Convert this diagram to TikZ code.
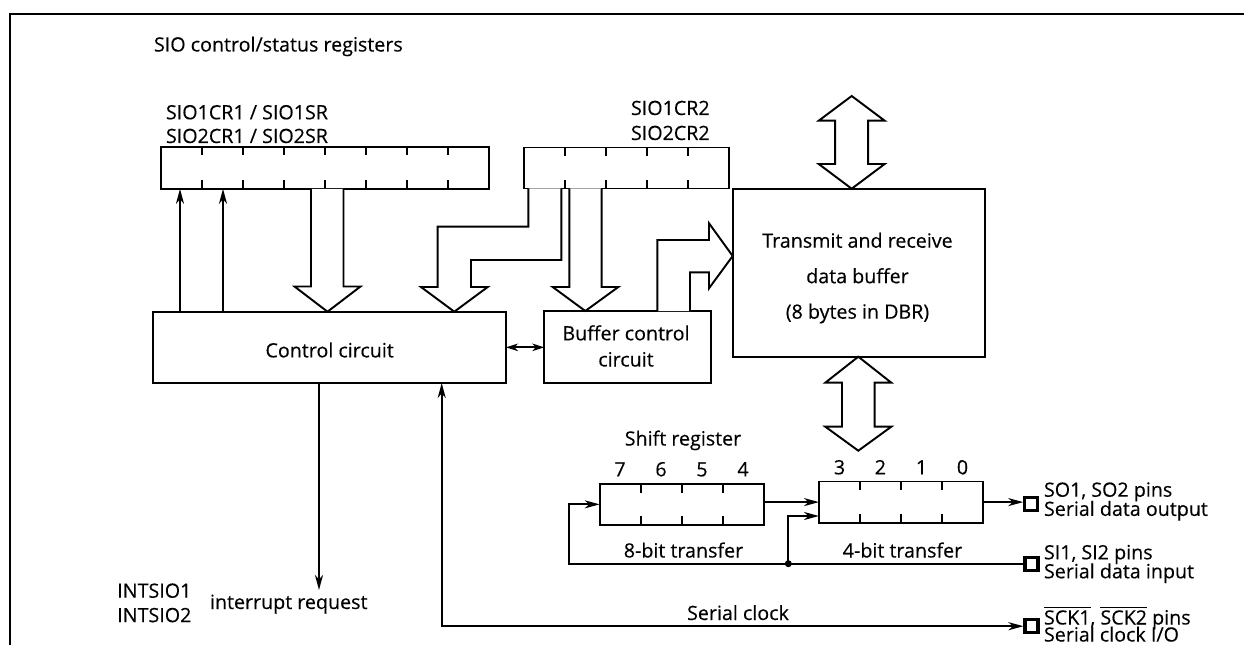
\documentclass[tikz,border=0pt]{standalone}
\usepackage{fontspec}
\setmainfont{Open Sans}[FakeBold=0.3]
\usetikzlibrary{arrows.meta,calc}
\newcommand\pinlbl[3]{\vtop{\baselineskip=#1\lineskiplimit=-100pt\lineskip=0pt\hbox{#2}\hbox{#3}}}
\begin{document}
\begin{tikzpicture}[x=0.02cm,y=-0.02cm,
  line width=1.1pt,
  box/.style={draw,line width=1.1pt,inner sep=0pt,outer sep=0pt},
  txt/.style={inner sep=0pt,outer sep=0pt,font=\fontsize{11.2}{13}\selectfont},
  arr/.style={-{Stealth[length=3mm,width=1.6mm,inset=0.9mm]}},
  arrboth/.style={{Stealth[length=3mm,width=1.6mm,inset=0.9mm]}-{Stealth[length=3mm,width=1.6mm,inset=0.9mm]}},
  darr/.style={{Stealth[length=2.4mm,width=1.5mm,inset=0.7mm]}-{Stealth[length=2.4mm,width=1.5mm,inset=0.7mm]}},
  blk/.style={draw,fill=white,line width=1.1pt,line join=miter},
  pin/.style={draw,line width=1.8pt,minimum size=2.6mm,inner sep=0pt}]
\useasboundingbox (0,0) rectangle (1244,645);
% frame
\draw[line width=1.5pt] (10,645) -- (10,14) -- (1244,14);

% titles
\node[txt,anchor=base west] (title) at (154,51.5) {SIO control/status registers};
\node[txt,anchor=base west] (l1a) at (166,119.3) {SIO1CR1 / SIO1SR};
\node[txt,anchor=base west] (l1b) at (166,143) {SIO2CR1 / SIO2SR};
\node[txt,anchor=base west] (l2a) at (631,115) {SIO1CR2};
\node[txt,anchor=base west] (l2b) at (631,140) {SIO2CR2};

% registers
\node[box,minimum width=65.6mm,minimum height=8.4mm] (cr1) at (325,167.8) {};
\foreach \i in {1,...,7} {
  \draw ($(cr1.north west)+(\i*41,0)$) -- ++(0,8.5);
  \draw ($(cr1.south west)+(\i*41,0)$) -- ++(0,-8.5);
}
\node[box,minimum width=41mm,minimum height=8.2mm] (cr2) at (626.65,168) {};
\foreach \i in {1,...,4} {
  \draw ($(cr2.north west)+(\i*41,0)$) -- ++(0,8.5);
  \draw ($(cr2.south west)+(\i*41,0)$) -- ++(0,-8.5);
}

% main boxes
\node[box,minimum width=70.54mm,minimum height=14.26mm,font=\fontsize{11.2}{13}\selectfont,text height=4mm,text depth=0mm] (ctrl) at (329.65,347.35) {Control circuit};
\node[box,minimum width=33.28mm,minimum height=14.4mm] (bc) at (627.5,347) {};
\node[txt,anchor=base] (bct1) at (626,340.3) {Buffer control};
\node[txt,anchor=base] (bct2) at (626,366.5) {circuit};
\node[box,minimum width=50.46mm,minimum height=33.6mm] (dbr) at (858.85,272.7) {};
\node[txt,anchor=base] (dbt1) at (857.5,247.7) {Transmit and receive};
\node[txt,anchor=base] (dbt2) at (857.5,283.2) {data buffer};
\node[txt,anchor=base] (dbt3) at (857.5,318.7) {(8 bytes in DBR)};

% shift registers
\node[box,minimum width=32.86mm,minimum height=8.14mm] (shl) at (681.85,504.35) {};
\foreach \i in {1,...,3} {
  \draw ($(shl.north west)+(\i*41.08,0)$) -- ++(0,8.5);
  \draw ($(shl.south west)+(\i*41.08,0)$) -- ++(0,-8.5);
}
\node[box,minimum width=32.74mm,minimum height=8.24mm] (shr) at (900.85,502.1) {};
\foreach \i in {1,...,3} {
  \draw ($(shr.north west)+(\i*40.92,0)$) -- ++(0,8.5);
  \draw ($(shr.south west)+(\i*40.92,0)$) -- ++(0,-8.5);
}
\node[txt,anchor=base] (shtitle) at (683,445.5) {Shift register};
\foreach \n/\xx in {7/620,6/661,5/702,4/743}
  \node[txt,anchor=base] (b\n) at (\xx,476.3) {\n};
\foreach \n/\xx in {3/839.5,2/880.4,1/921.5,0/962.5}
  \node[txt,anchor=base] (b\n) at (\xx,474.3) {\n};
\node[txt,anchor=base] (t8) at (683.5,557.5) {8-bit transfer};
\node[txt,anchor=base] (t4) at (902.5,557.5) {4-bit transfer};

% pins
\node[pin] (so) at (1031.3,504.2) {};
\node[pin] (si) at (1031.5,563.7) {};
\node[pin] (sck) at (1031.5,626.2) {};
\node[txt,anchor=base west] (sol) at (1044,496.7) {\pinlbl{10.9pt}{SO1, SO2 pins}{Serial data output}};
\node[txt,anchor=base west] (sil) at (1044,559.3) {\pinlbl{10.8pt}{SI1, SI2 pins}{Serial data input}};
\node[txt,anchor=base west] (sckl) at (1044,624.5) {\pinlbl{9.7pt}{$\overline{\mbox{SCK1}}$, $\overline{\mbox{SCK2}}$ pins}{Serial clock I/O}};

% other labels
\node[txt,anchor=base] (sclk) at (738,620) {Serial clock};
\node[txt,anchor=base west] (irqt) at (210,609) {interrupt request};
\node[txt,anchor=base west] (intl) at (117.3,597.7) {\pinlbl{13.9pt}{INTSIO1}{INTSIO2}};

% block arrows
\draw[blk] (311,188.8) -- (311,286.5) -- (294.5,286.5) -- (327.5,311.7) -- (360.5,286.5) -- (343.5,286.5) -- (343.5,188.8);
\draw[blk] (528.3,188.5) -- (528.3,226.7) -- (437.7,226.7) -- (437.7,287) -- (421,287) -- (454.3,311.7) -- (487.7,287) -- (471,287) -- (471,260) -- (561.3,260) -- (561.3,188.5);
\draw[blk] (569.3,188.5) -- (569.3,287) -- (552.7,287) -- (585.3,311) -- (618.3,287) -- (601.7,287) -- (601.7,188.5);
\draw[blk] (657.3,311) -- (657.3,240) -- (709,240) -- (709,223.3) -- (732.7,256) -- (709,288.3) -- (709,272.3) -- (690,272.3) -- (690,311);
\draw[blk] (851.7,96) -- (884.7,120.7) -- (868.2,120.7) -- (868.2,164) -- (884.7,164) -- (851.7,188.7) -- (818.7,164) -- (835.2,164) -- (835.2,120.7) -- (818.7,120.7) -- cycle;
\draw[blk] (858.3,356.7) -- (891.3,382.7) -- (874.6,382.7) -- (874.6,426.7) -- (891.3,426.7) -- (858.3,450.7) -- (825.3,426.7) -- (842,426.7) -- (842,382.7) -- (825.3,382.7) -- cycle;

% thin connectors
\coordinate (ua) at (180,0);
\coordinate (ub) at (223,0);
\draw[arr] (ua |- ctrl.north) -- (ua |- cr1.south);
\draw[arr] (ub |- ctrl.north) -- (ub |- cr1.south);
\draw[darr] (ctrl.east) -- (ctrl.east -| bc.west);

\draw[arr] (shl.east |- shr.west) -- (shr.west);
\draw[arr] (shr.east) -- (shr.east -| so.west);
\coordinate (lp) at (569,563.7);
\coordinate (jn) at (788.3,563.7);
\coordinate (srin) at (819,516);
\draw[arr] (si.west) -- (lp) |- (shl.west);
\draw[arr] (jn) |- (srin);
\fill (jn) circle[radius=0.7mm];

\coordinate (ck) at (441.7,626.2);
\draw[arrboth] (ctrl.south -| ck) -- (ck) -- (sck.west);
\coordinate (irq) at (319,590);
\draw[arr] (ctrl.south -| irq) -- (irq);
\end{tikzpicture}
\end{document}
